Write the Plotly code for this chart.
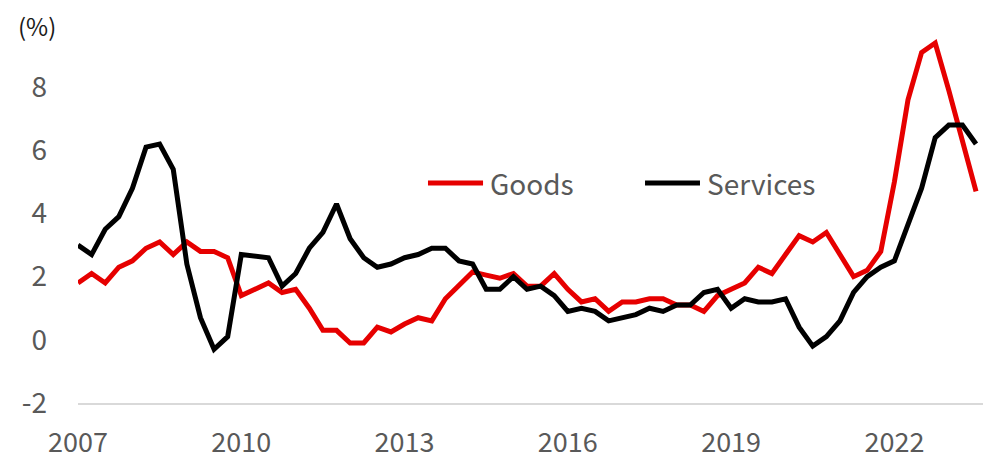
import plotly.graph_objects as go

# Quarterly, 2007Q1 .. 2023Q3
start_year = 2007
n_quarters = 67
quarters = [start_year + i / 4 for i in range(n_quarters)]

goods = [1.8, 2.1, 1.8, 2.3, 2.5, 2.9, 3.1, 2.7, 3.1, 2.8, 2.8, 2.6,
         1.4, 1.6, 1.8, 1.5, 1.6, 1.0, 0.3, 0.3, -0.1, -0.1, 0.4, 0.25,
         0.5, 0.7, 0.6, 1.3, 1.7, 2.15, 2.05, 1.95, 2.1, 1.7, 1.7, 2.1,
         1.6, 1.2, 1.3, 0.9, 1.2, 1.2, 1.3, 1.3, 1.1, 1.1, 0.9, 1.4,
         1.6, 1.8, 2.3, 2.1, 2.7, 3.3, 3.1, 3.4, 2.7, 2.0, 2.2, 2.8,
         5.0, 7.6, 9.1, 9.4, 7.9, 6.3, 4.7]

services = [3.0, 2.7, 3.5, 3.9, 4.8, 6.1, 6.2, 5.4, 2.4, 0.7, -0.3, 0.1,
            2.7, 2.65, 2.6, 1.7, 2.1, 2.9, 3.4, 4.3, 3.2, 2.6, 2.3, 2.4,
            2.6, 2.7, 2.9, 2.9, 2.5, 2.4, 1.6, 1.6, 2.0, 1.6, 1.7, 1.4,
            0.9, 1.0, 0.9, 0.6, 0.7, 0.8, 1.0, 0.9, 1.1, 1.1, 1.5, 1.6,
            1.0, 1.3, 1.2, 1.2, 1.3, 0.4, -0.2, 0.1, 0.6, 1.5, 2.0, 2.3,
            2.5, 3.7, 4.8, 6.4, 6.8, 6.8, 6.2]

x_tick_vals = [2007, 2010, 2013, 2016, 2019, 2022]
x_tick_text = ["2007", "2010", "2013", "2016", "2019", "2022"]
y_tick_vals = [-2, 0, 2, 4, 6, 8]
y_tick_text = ["-2", "0", "2", "4", "6", "8"]

series_names = ["Goods", "Services"]
series_colors = ["#e60000", "#000000"]

FONT = "Noto Sans CJK JP"
GRAY = "#595959"

fig = go.Figure()
for name, vals, col in zip(series_names, [goods, services], series_colors):
    fig.add_trace(go.Scatter(x=quarters, y=vals, mode="lines", name=name,
                             line=dict(color=col, width=5),
                             showlegend=False))

# custom legend (line sample + text) in paper coordinates
legend_pos = [(0.3846, 0.4451, 0.4505), (0.6231, 0.6835, 0.6890)]
ly = 0.5805
for (x0, x1, tx), name, col in zip(legend_pos, series_names, series_colors):
    fig.add_shape(type="line", xref="paper", yref="paper", x0=x0, x1=x1,
                  y0=ly, y1=ly, line=dict(color=col, width=5))
    fig.add_annotation(xref="paper", yref="paper", x=tx, y=ly, text=name,
                       showarrow=False, xanchor="left", yanchor="middle",
                       font=dict(family=FONT, size=28, color=GRAY))

fig.add_annotation(xref="paper", yref="paper", x=-0.0451, y=0.997,
                   text="(%)", showarrow=False, xanchor="center",
                   yanchor="middle",
                   font=dict(family=FONT, size=24, color="#1a1a1a"))

# page body has an 8px margin, so the figure is drawn 8px in from the corner
fig.update_layout(
    width=983, height=453,
    margin=dict(l=70, r=3, t=16, b=58, autoexpand=False),
    paper_bgcolor="white", plot_bgcolor="white",
    font=dict(family=FONT),
)
fig.update_xaxes(range=[2007, 2023.72], tickvals=x_tick_vals,
                 ticktext=x_tick_text, showgrid=False, zeroline=False,
                 showline=True, linecolor="#d9d9d9", linewidth=2,
                 ticks="", ticklabelstandoff=15, automargin=False,
                 tickfont=dict(family=FONT, size=27, color=GRAY))
fig.update_yaxes(range=[-2, 10], tickvals=y_tick_vals,
                 ticktext=y_tick_text, showgrid=False, zeroline=False,
                 showline=False, ticks="", ticklabelstandoff=30,
                 automargin=False,
                 tickfont=dict(family=FONT, size=28, color=GRAY))

fig.write_html("out.html")
